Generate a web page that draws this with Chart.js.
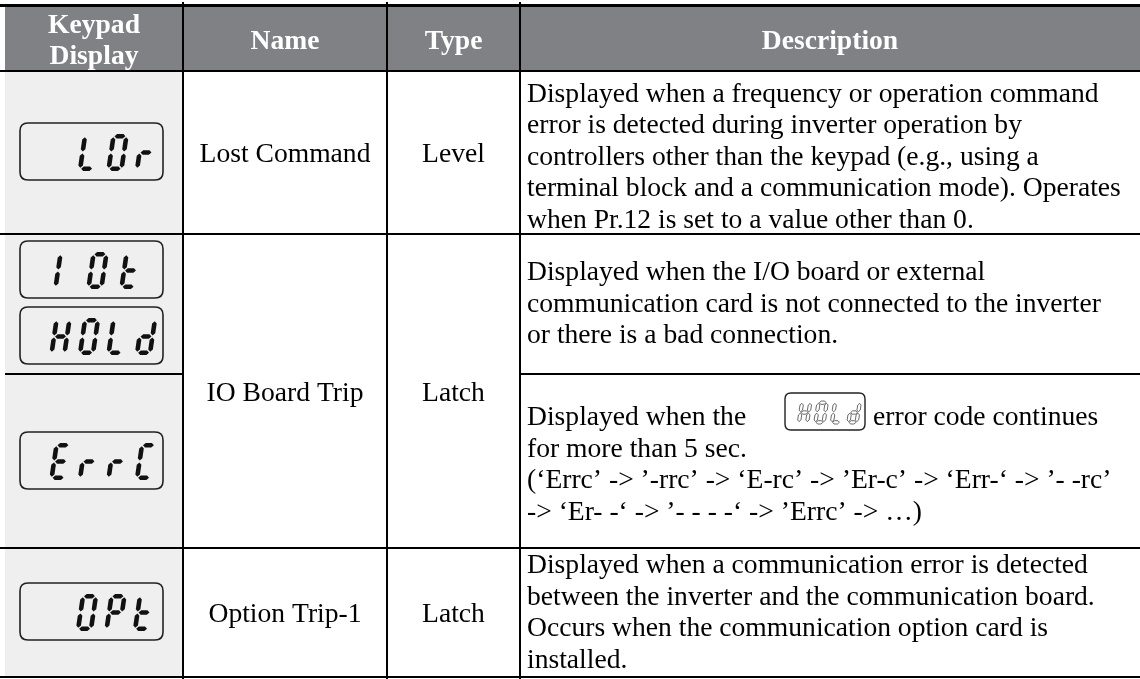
<!DOCTYPE html>
<html><head><meta charset="utf-8">
<script src="https://cdn.jsdelivr.net/npm/chart.js@4.4.1/dist/chart.umd.min.js"></script>
<style>html,body{margin:0;padding:0;background:#fff;}#wrap{width:1140px;height:679px;position:relative;}</style>
</head><body><div id="wrap"><canvas id="c" width="1140" height="679"></canvas></div>
<script>
// ---- data ----
const headers = ['Keypad\nDisplay', 'Name', 'Type', 'Description'];
const displayCodes = [' LOr', '1Ot', 'HOLd', 'ErrC', ' OPt'];
const names = ['Lost Command', 'IO Board Trip', 'Option Trip-1'];
const types = ['Level', 'Latch', 'Latch'];
const descLostCommand = [
  'Displayed when a frequency or operation command',
  'error is detected during inverter operation by',
  'controllers other than the keypad (e.g., using a',
  'terminal block and a communication mode). Operates',
  'when Pr.12 is set to a value other than 0.'
];
const descIOBoard = [
  'Displayed when the I/O board or external',
  'communication card is not connected to the inverter',
  'or there is a bad connection.'
];
const descHold = [
  ['Displayed when the', 'HOLd', 'error code continues'],
  'for more than 5 sec.',
  '(\u2018Errc\u2019 -> \u2019-rrc\u2019 -> \u2018E-rc\u2019 -> \u2019Er-c\u2019 -> \u2018Err-\u2018 -> \u2019- -rc\u2019',
  '-> \u2018Er- -\u2018 -> \u2019- - - -\u2018 -> \u2019Errc\u2019 -> \u2026)'
];
const descOption = [
  'Displayed when a communication error is detected',
  'between the inverter and the communication board.',
  'Occurs when the communication option card is',
  'installed.'
];

// ---- layout (reference pixel units) ----
const colEdges = [5, 183, 387, 520, 1140];
const rowEdges = [5, 71, 234, 548, 677];
const subRowEdge = 374;
const boxTops = [123, 241, 307, 432, 583];
const slotStart = [49, 53, 49, 49, 47];
const slotPitch = [28.5, 33, 28.5, 28.5, 28.5];
const HEADER_BG = '#808185';
const KEY_BG = '#efefef';
const FONT = '"Liberation Serif","Times New Roman",serif';
const FS = 27.6;
const PITCH = 31.5;

const SEG = {'0':'abcdef','O':'abcdef','L':'def','r':'eg','1':'ef','t':'defg','H':'bcefg','d':'bcdeg','E':'adefg','C':'adef','P':'abefg',' ':''};

function drawDigit(ctx, ch, x0, yb, W, H, T, sk, hollow) {
  const segs = SEG[ch] || '';
  const g = T * 0.22, h = T / 2;
  const P = (u, v) => [x0 + u + sk * v, yb - v];
  const hseg = vc => { const uL = T/2 + g, uR = W - T/2 - g; return [[uL,vc],[uL+h,vc+h],[uR-h,vc+h],[uR,vc],[uR-h,vc-h],[uL+h,vc-h]]; };
  const vseg = (uc, v0, v1) => { const vB = v0 + g, vT = v1 - g; return [[uc,vB],[uc+h,vB+h],[uc+h,vT-h],[uc,vT],[uc-h,vT-h],[uc-h,vB+h]]; };
  const defs = {
    a: hseg(H - T/2), g: hseg(H/2), d: hseg(T/2),
    f: vseg(T/2, H/2, H - T/2), b: vseg(W - T/2, H/2, H - T/2),
    e: vseg(T/2, T/2, H/2), c: vseg(W - T/2, T/2, H/2)
  };
  for (const s of segs) {
    const pts = defs[s].map(p => P(p[0], p[1]));
    ctx.beginPath();
    ctx.moveTo(pts[0][0], pts[0][1]);
    for (let i = 1; i < pts.length; i++) ctx.lineTo(pts[i][0], pts[i][1]);
    ctx.closePath();
    if (hollow) ctx.stroke(); else ctx.fill();
  }
}

function roundBox(ctx, x, y, w, h, r) {
  ctx.beginPath();
  ctx.moveTo(x + r, y);
  ctx.lineTo(x + w - r, y); ctx.quadraticCurveTo(x + w, y, x + w, y + r);
  ctx.lineTo(x + w, y + h - r); ctx.quadraticCurveTo(x + w, y + h, x + w - r, y + h);
  ctx.lineTo(x + r, y + h); ctx.quadraticCurveTo(x, y + h, x, y + h - r);
  ctx.lineTo(x, y + r); ctx.quadraticCurveTo(x, y, x + r, y);
  ctx.closePath();
}

const tablePlugin = {
  id: 'tablePlugin',
  beforeDraw(chart) {
    const {ctx, scales: {x, y}} = chart;
    const X = v => x.getPixelForValue(v), Y = v => y.getPixelForValue(v);
    ctx.save();
    ctx.fillStyle = KEY_BG;
    ctx.fillRect(X(colEdges[0]), Y(rowEdges[1]), X(colEdges[1]) - X(colEdges[0]), Y(rowEdges[4]) - Y(rowEdges[1]));
    ctx.fillStyle = HEADER_BG;
    ctx.fillRect(X(colEdges[0]), Y(rowEdges[0]), X(colEdges[4]) - X(colEdges[0]), Y(rowEdges[1]) - Y(rowEdges[0]));
    ctx.restore();
  },
  afterDraw(chart) {
    const {ctx, scales: {x, y}} = chart;
    const X = v => x.getPixelForValue(v), Y = v => y.getPixelForValue(v);
    ctx.save();
    ctx.strokeStyle = '#000'; ctx.lineWidth = 2;
    ctx.beginPath();
    ctx.moveTo(X(colEdges[0]), Y(subRowEdge)); ctx.lineTo(X(colEdges[1]), Y(subRowEdge));
    ctx.moveTo(X(colEdges[3]), Y(subRowEdge)); ctx.lineTo(X(colEdges[4]), Y(subRowEdge));
    ctx.stroke();

    // headers
    ctx.fillStyle = '#fff';
    ctx.font = 'bold ' + FS + 'px ' + FONT;
    ctx.textAlign = 'center';
    const hMid = (rowEdges[0] + rowEdges[1]) / 2;
    headers.forEach((hd, i) => {
      const cx = (colEdges[i] + colEdges[i + 1]) / 2;
      const lines = hd.split('\n');
      const b0 = hMid + 10.5 - (lines.length - 1) * 31 / 2;
      lines.forEach((ln, j) => ctx.fillText(ln, X(cx), Y(b0 + j * 31)));
    });

    // names and types
    ctx.fillStyle = '#000';
    ctx.font = FS + 'px ' + FONT;
    const spans = [[rowEdges[1], rowEdges[2]], [rowEdges[2], rowEdges[3]], [rowEdges[3], rowEdges[4]]];
    spans.forEach((sp, i) => {
      const cy = (sp[0] + sp[1]) / 2 + 9.5;
      ctx.fillText(names[i], X((colEdges[1] + colEdges[2]) / 2), Y(cy));
      ctx.fillText(types[i], X((colEdges[2] + colEdges[3]) / 2), Y(cy));
    });

    // descriptions
    ctx.textAlign = 'left';
    const dx = colEdges[3] + 7;
    const blocks = [[descLostCommand, 101.5], [descIOBoard, 280], [descHold, 425], [descOption, 573.3]];
    blocks.forEach(([lines, b0]) => {
      lines.forEach((ln, j) => {
        const by = Y(b0 + j * PITCH);
        if (Array.isArray(ln)) {
          ctx.fillText(ln[0], X(dx), by);
          const bx = X(785), bw = 80, bh = 37, byTop = Y(393);
          ctx.save();
          ctx.strokeStyle = '#222'; ctx.lineWidth = 1.4;
          roundBox(ctx, bx, byTop, bw, bh, 6); ctx.stroke();
          ctx.lineWidth = 0.8; ctx.strokeStyle = '#444';
          for (let k = 0; k < ln[1].length; k++) drawDigit(ctx, ln[1][k], bx + 12 + k * 16.5, byTop + 31, 11.5, 23, 3.3, 0.16, true);
          ctx.restore();
          ctx.fillText(ln[2], X(873), by);
        } else {
          ctx.fillText(ln, X(dx), by);
        }
      });
    });

    // keypad displays
    displayCodes.forEach((code, i) => {
      const bx = X(20), byTop = Y(boxTops[i]), bw = 143, bh = 57;
      ctx.strokeStyle = '#222'; ctx.lineWidth = 1.6;
      roundBox(ctx, bx, byTop, bw, bh, 8); ctx.stroke();
      ctx.fillStyle = '#111';
      for (let k = 0; k < code.length; k++) drawDigit(ctx, code[k], X(slotStart[i]) + k * slotPitch[i], byTop + 48, 17.5, 37, 4.6, 0.15, false);
    });
    ctx.restore();
  }
};

const chart = new Chart(document.getElementById('c'), {
  type: 'scatter',
  data: { datasets: [{ data: [], pointRadius: 0 }] },
  options: {
    responsive: false, animation: false, events: [],
    layout: { padding: { top: 2, left: 0, right: 0, bottom: 0 } },
    plugins: { legend: { display: false }, tooltip: { enabled: false } },
    scales: {
      x: {
        type: 'linear', min: 0, max: 1140,
        afterBuildTicks: s => { s.ticks = colEdges.slice(1, 4).map(v => ({ value: v })); },
        ticks: { display: false }, border: { display: false },
        grid: { color: '#000', lineWidth: 2, drawTicks: false }
      },
      y: {
        type: 'linear', min: 2, max: 679, reverse: true,
        afterBuildTicks: s => { s.ticks = rowEdges.map(v => ({ value: v })); },
        ticks: { display: false }, border: { display: false },
        grid: { color: '#000', lineWidth: c => (c.tick && c.tick.value === rowEdges[0]) ? 3 : 2, drawTicks: false }
      }
    }
  },
  plugins: [tablePlugin]
});
</script></body></html>
